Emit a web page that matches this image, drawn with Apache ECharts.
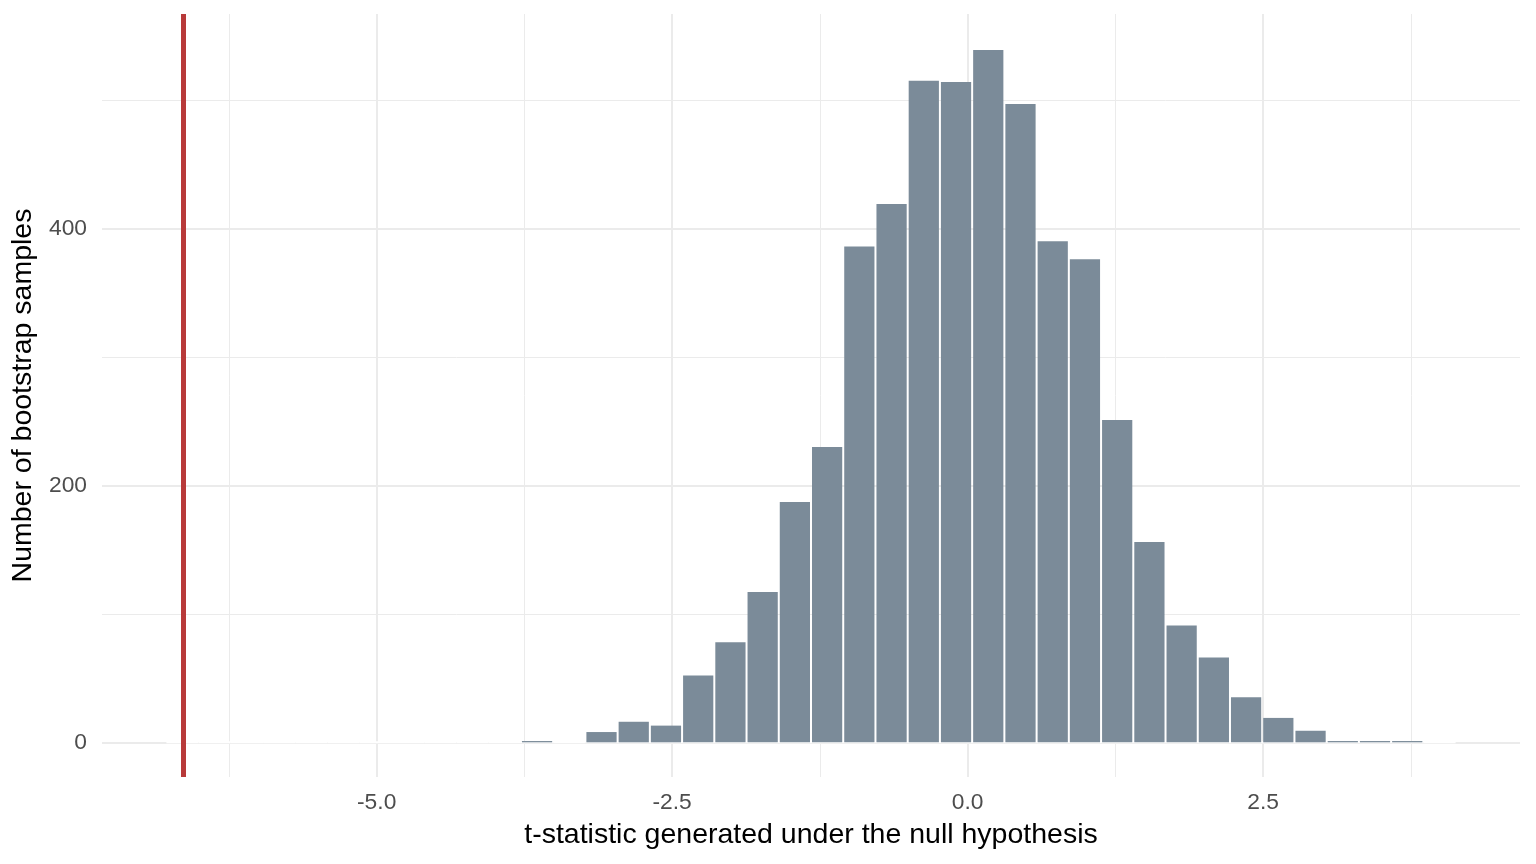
<!DOCTYPE html>
<html>
<head>
<meta charset="utf-8">
<script src="https://cdn.jsdelivr.net/npm/echarts@6/dist/echarts.min.js"></script>
<style>
    html, body { margin: 0; padding: 0; background: #fff; }
    #chart { width: 1536px; height: 864px; }
</style>
</head>
<body>
<div id="chart"></div>
<script>
// histogram bins (40 bins of equal width)
var binStart = -6.779;
var binWidth = 0.2727;
var binCounts = [0, 0, 0, 0, 0, 0, 0, 0, 0, 0, 0, 1, 0,
    8, 16, 13, 52, 78, 117, 187, 230, 386, 419, 515, 514, 539,
    497, 390, 376, 251, 156, 91, 66, 35, 19, 9, 1, 1, 1, 0];

// observed t-statistic (red line)
var observedT = -6.642;

// tick labels / grid lines
var xMajorTicks = [-5, -2.5, 0, 2.5];
var xMinorTicks = [-6.25, -3.75, -1.25, 1.25, 3.75];
var yMajorTicks = [0, 200, 400];
var yMinorTicks = [100, 300, 500];

var xRange = [-7.324, 4.674];
var yRange = [-27, 567];

var fontFamily = '"Liberation Sans", Arial, sans-serif';

var binData = binCounts.map(function(c, i) {
    return [binStart + i * binWidth, binStart + (i + 1) * binWidth, c];
});

function renderBin(params, api) {
    var p0 = api.coord([api.value(0), api.value(2)]);
    var p1 = api.coord([api.value(1), 0]);
    var children = [{
        // white outline along the base (covers the zero grid line, like ggplot)
        type: 'line',
        shape: { x1: p0[0], y1: p1[1], x2: p1[0], y2: p1[1] },
        style: { stroke: '#ffffff', lineWidth: 2 }
    }];
    if (api.value(2) > 0) {
        children.push({
            type: 'rect',
            shape: { x: p0[0] + 1, y: p0[1], width: p1[0] - p0[0] - 2, height: p1[1] - p0[1] },
            style: { fill: '#7B8B99' }
        });
    }
    return { type: 'group', children: children };
}

var chart = echarts.init(document.getElementById('chart'));

chart.setOption({
    animation: false,
    backgroundColor: '#ffffff',
    textStyle: { fontFamily: fontFamily },
    grid: { left: 102, right: 16, top: 14, bottom: 87 },
    xAxis: [{
        type: 'value',
        position: 'bottom',
        min: xRange[0],
        max: xRange[1],
        axisLine: { show: false },
        axisTick: { show: false, customValues: xMajorTicks },
        axisLabel: {
            customValues: xMajorTicks,
            color: '#4D4D4D',
            fontSize: 22.8,
            margin: 14,
            fontFamily: fontFamily,
            formatter: function(v) { return v.toFixed(1); }
        },
        splitLine: { show: true, lineStyle: { color: '#EBEBEB', width: 2 } },
        name: 't-statistic generated under the null hypothesis',
        nameLocation: 'middle',
        nameGap: 44,
        nameTextStyle: { color: '#000000', fontSize: 28.5, fontFamily: fontFamily }
    }, {
        type: 'value',
        position: 'top',
        min: xRange[0],
        max: xRange[1],
        axisLine: { show: false },
        axisTick: { show: false, customValues: xMinorTicks },
        axisLabel: { show: false, customValues: xMinorTicks },
        splitLine: { show: true, lineStyle: { color: '#EBEBEB', width: 1 } }
    }],
    yAxis: [{
        type: 'value',
        position: 'left',
        min: yRange[0],
        max: yRange[1],
        axisLine: { show: false },
        axisTick: { show: false, customValues: yMajorTicks },
        axisLabel: {
            customValues: yMajorTicks,
            color: '#4D4D4D',
            fontSize: 22.8,
            margin: 15,
            padding: [3, 0, 0, 0],
            fontFamily: fontFamily
        },
        splitLine: { show: true, lineStyle: { color: '#EBEBEB', width: 2 } },
        name: 'Number of bootstrap samples',
        nameLocation: 'middle',
        nameGap: 53,
        nameTextStyle: { color: '#000000', fontSize: 28.5, fontFamily: fontFamily }
    }, {
        type: 'value',
        position: 'right',
        min: yRange[0],
        max: yRange[1],
        axisLine: { show: false },
        axisTick: { show: false, customValues: yMinorTicks },
        axisLabel: { show: false, customValues: yMinorTicks },
        splitLine: { show: true, lineStyle: { color: '#EBEBEB', width: 1 } }
    }],
    series: [{
        name: 'bootstrap',
        type: 'custom',
        xAxisIndex: 0,
        yAxisIndex: 0,
        renderItem: renderBin,
        encode: { x: [0, 1], y: 2 },
        data: binData,
        z: 2
    }, {
        name: 'observed',
        type: 'line',
        xAxisIndex: 0,
        yAxisIndex: 0,
        data: [],
        z: 5,
        markLine: {
            silent: true,
            symbol: ['none', 'none'],
            label: { show: false },
            lineStyle: { color: '#B83A3A', width: 5, type: 'solid' },
            data: [{ xAxis: observedT }]
        }
    }]
});
</script>
</body>
</html>
